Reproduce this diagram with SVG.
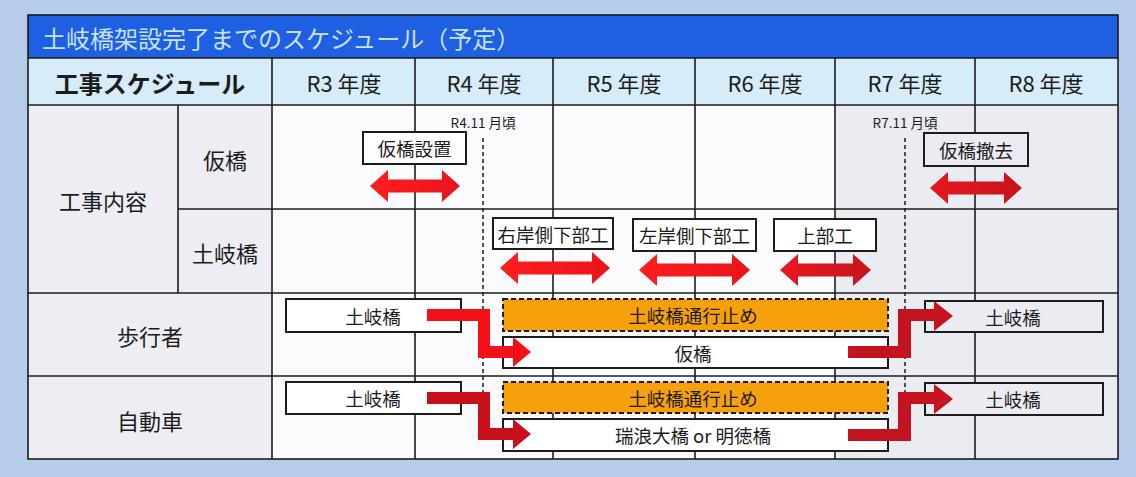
<svg xmlns="http://www.w3.org/2000/svg" width="1136" height="477" viewBox="0 0 1136 477">
<defs>
<style>
text{font-family:"Noto Sans CJK JP","Noto Sans",sans-serif;fill:#1c1c1c;text-anchor:middle;dominant-baseline:central}
.title{fill:#c6e2ff;text-anchor:start;font-size:24px}
.hdr{font-size:22px}
.hdrb{font-size:24px;font-weight:bold}
.lbl{font-size:22px}
.box{fill:#fff;stroke:#1c1c1c;stroke-width:2}
.boxg{fill:#ecebf2;stroke:#1c1c1c;stroke-width:2}
.bt{font-size:18.5px}
.stop{fill:#f6a00c;stroke:#1c1c1c;stroke-width:2;stroke-dasharray:5 3}
.grid{stroke:#1c1c1c;stroke-width:1.6;fill:none}
.dash{stroke:#1c1c1c;stroke-width:1.5;stroke-dasharray:4 3;fill:none}
.note{font-size:13.5px}
</style>
<linearGradient id="redA" x1="0" x2="1" y1="0" y2="0">
<stop offset="0" stop-color="#ff1e1e"/>
<stop offset="1" stop-color="#e8141c"/>
</linearGradient>
<linearGradient id="redB" x1="0" x2="1" y1="0" y2="0">
<stop offset="0" stop-color="#e8181e"/>
<stop offset="1" stop-color="#c8141c"/>
</linearGradient>
</defs>

<rect x="0" y="0" width="1136" height="477" fill="#b6cdea"/>

<g id="table">
<rect x="28" y="15" width="1090" height="43" fill="#1f5fe2"/>
<rect x="28" y="58" width="1090" height="47" fill="#d6ecf8"/>
<rect x="28" y="105" width="1090" height="354" fill="#fbfbfd"/>
<rect x="28" y="105" width="244" height="354" fill="#eeedf4"/>
<rect x="835" y="105" width="283" height="354" fill="#ebebf2"/>
<text class="title" x="42" y="37">土岐橋架設完了までのスケジュール（予定）</text>
<g class="grid">
<rect x="28" y="15" width="1090" height="444"/>
<line x1="28" y1="58" x2="1118" y2="58"/>
<line x1="28" y1="105" x2="1118" y2="105"/>
<line x1="178" y1="209" x2="1118" y2="209"/>
<line x1="28" y1="293" x2="1118" y2="293"/>
<line x1="28" y1="376" x2="1118" y2="376"/>
<line x1="178" y1="105" x2="178" y2="293"/>
<line x1="272" y1="58" x2="272" y2="459"/>
<line x1="415" y1="58" x2="415" y2="459"/>
<line x1="553" y1="58" x2="553" y2="459"/>
<line x1="695" y1="58" x2="695" y2="459"/>
<line x1="835" y1="58" x2="835" y2="459"/>
<line x1="975" y1="58" x2="975" y2="459"/>
</g>
<text class="hdrb" x="150" y="82">工事スケジュール</text>
<text class="hdr" x="344" y="82">R3 年度</text>
<text class="hdr" x="484" y="82">R4 年度</text>
<text class="hdr" x="624" y="82">R5 年度</text>
<text class="hdr" x="765" y="82">R6 年度</text>
<text class="hdr" x="905" y="82">R7 年度</text>
<text class="hdr" x="1046" y="82">R8 年度</text>
<text class="lbl" x="103" y="200">工事内容</text>
<text class="lbl" x="225" y="159">仮橋</text>
<text class="lbl" x="225" y="252">土岐橋</text>
<text class="lbl" x="150" y="335">歩行者</text>
<text class="lbl" x="150" y="420">自動車</text>
</g>

<g id="milestones">
<path class="dash" d="M483,138 V395"/>
<path class="dash" d="M905,138 V395"/>
<text class="note" x="483" y="122">R4.11 月頃</text>
<text class="note" x="905" y="122">R7.11 月頃</text>
</g>

<g id="kakyo-setchi"><rect class="box" x="363" y="132" width="103" height="32"/><text class="bt" x="414.5" y="148">仮橋設置</text></g>
<g id="kakyo-tekkyo"><rect class="boxg" x="924" y="133" width="104" height="33"/><text class="bt" x="976" y="149.5">仮橋撤去</text></g>
<g id="uganso"><rect class="box" x="493" y="218" width="120" height="31"/><text class="bt" x="553" y="233.5">右岸側下部工</text></g>
<g id="saganso"><rect class="box" x="633" y="219" width="123" height="32"/><text class="bt" x="694.5" y="235">左岸側下部工</text></g>
<g id="jobuko"><rect class="box" x="774" y="219" width="102" height="32"/><text class="bt" x="825" y="235">上部工</text></g>

<g id="ped-toki"><rect class="box" x="286" y="299" width="175" height="33"/><text class="bt" x="373" y="315.5">土岐橋</text></g>
<g id="ped-stop"><rect class="stop" x="503" y="299" width="385" height="32"/><text class="bt" x="693" y="315">土岐橋通行止め</text></g>
<g id="ped-kakyo"><rect class="box" x="503" y="337" width="385" height="31"/><text class="bt" x="693" y="352.5">仮橋</text></g>
<g id="ped-toki2"><rect class="boxg" x="925" y="301" width="178" height="31"/><text class="bt" x="1013" y="316.5">土岐橋</text></g>

<g id="car-toki"><rect class="box" x="286" y="382" width="175" height="32"/><text class="bt" x="373" y="398">土岐橋</text></g>
<g id="car-stop"><rect class="stop" x="503" y="382" width="385" height="31"/><text class="bt" x="693" y="397.5">土岐橋通行止め</text></g>
<g id="car-detour"><rect class="box" x="503" y="419" width="385" height="32"/><text class="bt" x="693" y="435">瑞浪大橋 or 明徳橋</text></g>
<g id="car-toki2"><rect class="boxg" x="925" y="383" width="178" height="32"/><text class="bt" x="1013" y="399">土岐橋</text></g>

<g id="connectors">
<path fill="url(#redA)" d="M370,186 L388,170 L388,179.5 L442,179.5 L442,170 L460,186 L442,202 L442,192.5 L388,192.5 L388,202 Z"/>
<path fill="url(#redB)" d="M930,188 L948,172 L948,181.5 L1004,181.5 L1004,172 L1022,188 L1004,204 L1004,194.5 L948,194.5 L948,204 Z"/>
<path fill="url(#redA)" d="M500,268 L518,252 L518,261.5 L592,261.5 L592,252 L610,268 L592,284 L592,274.5 L518,274.5 L518,284 Z"/>
<path fill="url(#redA)" d="M639,270 L657,254 L657,263.5 L732,263.5 L732,254 L750,270 L732,286 L732,276.5 L657,276.5 L657,286 Z"/>
<path fill="url(#redB)" d="M780,270 L798,254 L798,263.5 L853,263.5 L853,254 L871,270 L853,286 L853,276.5 L798,276.5 L798,286 Z"/>

<path fill="#f41018" d="M427,309 L490,309 L490,346 L513,346 L513,337 L531,352 L513,367 L513,358 L478,358 L478,321 L427,321 Z"/>
<path fill="#c9101a" d="M427,392 L490,392 L490,428 L513,428 L513,419 L531,434 L513,449 L513,440 L478,440 L478,404 L427,404 Z"/>
<path fill="#c41420" d="M848,346 L898,346 L898,309 L934,309 L934,301 L953,316 L934,331 L934,321 L911,321 L911,358 L848,358 Z"/>
<path fill="#c41420" d="M848,429 L898,429 L898,392 L934,392 L934,384 L953,399 L934,414 L934,404 L911,404 L911,441 L848,441 Z"/>
</g>
</svg>
